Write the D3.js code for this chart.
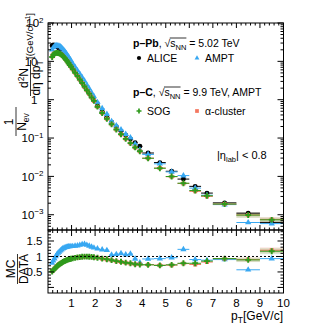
<!DOCTYPE html>
<html><head><meta charset="utf-8">
<script src="https://cdn.jsdelivr.net/npm/d3@7"></script>
<style>
body{margin:0;background:#fff;}
svg text{font-family:"Liberation Sans",Arial,Helvetica,sans-serif;fill:#000;}
</style></head><body>
<svg id="c" width="315" height="329"></svg>
<script>
// ---------------- data ----------------
const pT = [0.175,0.225,0.275,0.325,0.375,0.425,0.475,0.525,0.575,0.625,0.675,0.725,0.775,0.825,0.875,0.925,0.975,
  1.05,1.15,1.25,1.35,1.45,1.55,1.65,1.75,1.85,1.95,
  2.1,2.3,2.5,2.7,2.9,3.1,3.3,3.5,3.7,3.9,
  4.25,4.75,5.25,5.75,6.25,6.75,
  7.5,8.5,9.5];
const pTHalfWidth = [0.025,0.025,0.025,0.025,0.025,0.025,0.025,0.025,0.025,0.025,0.025,0.025,0.025,0.025,0.025,0.025,0.025,
  0.05,0.05,0.05,0.05,0.05,0.05,0.05,0.05,0.05,0.05,
  0.1,0.1,0.1,0.1,0.1,0.1,0.1,0.1,0.1,0.1,
  0.25,0.25,0.25,0.25,0.25,0.25,
  0.5,0.5,0.5];
const aliceSpectrum = [25.5,26.6,26.5,25.7,24.5,23.1,21.8,20.4,18.6,17.0,15.3,13.8,12.4,11.1,9.89,8.81,7.85,
  6.61,5.31,4.27,3.43,2.75,2.21,1.78,1.45,1.17,0.955,
  0.684,0.484,0.351,0.260,0.197,0.151,0.119,0.0944,0.0759,0.0610,
  0.0407,0.0229,0.0136,0.00851,0.00550,0.00367,
  0.00204,0.00110,0.000631];
const amptSpectrum = [20.1,22.9,24.6,25.7,26.0,25.6,25.1,24.3,22.7,21.3,19.4,17.8,16.1,14.5,13.1,11.6,10.4,
  8.79,7.12,5.76,4.70,3.82,3.09,2.44,1.94,1.53,1.22,
  0.855,0.590,0.421,0.273,0.211,0.166,0.126,0.102,0.0698,0.0488,
  0.0374,0.0213,0.0131,0.0105,0.00495,0.00323,
  0.00184,0.000627,0.000587];
const sogSpectrum = [13.0,14.9,15.9,16.4,16.7,16.4,16.1,15.7,14.7,13.9,12.9,11.9,10.9,9.88,8.95,8.06,7.26,
  6.21,5.07,4.14,3.36,2.72,2.20,1.77,1.44,1.15,0.931,
  0.657,0.450,0.319,0.229,0.167,0.125,0.0952,0.0736,0.0569,0.0451,
  0.0297,0.0163,0.00993,0.00664,0.00429,0.00312,
  0.00190,0.000979,0.000738];
const alphaSpectrum = [13.3,15.0,16.0,16.6,16.8,16.5,16.2,15.8,14.8,13.9,12.9,11.9,10.9,9.88,8.95,8.06,7.26,
  6.21,5.07,4.12,3.34,2.71,2.19,1.76,1.43,1.15,0.926,
  0.653,0.448,0.318,0.228,0.166,0.125,0.0952,0.0732,0.0569,0.0454,
  0.0299,0.0165,0.00979,0.00655,0.00407,0.00301,
  0.00190,0.000990,0.000757];
const amptRatio = [0.79,0.86,0.93,1.00,1.06,1.11,1.15,1.19,1.22,1.25,1.27,1.29,1.30,1.31,1.32,1.32,1.33,
  1.33,1.34,1.35,1.37,1.39,1.40,1.37,1.34,1.31,1.28,
  1.25,1.22,1.20,1.05,1.07,1.10,1.06,1.08,0.92,0.80,
  0.92,0.93,0.96,1.23,0.90,0.88,
  0.90,0.57,0.93];
const sogRatio = [0.51,0.56,0.60,0.64,0.68,0.71,0.74,0.77,0.79,0.82,0.84,0.86,0.875,0.89,0.905,0.915,0.925,
  0.94,0.955,0.97,0.98,0.99,0.995,0.995,0.99,0.985,0.975,
  0.96,0.93,0.91,0.88,0.85,0.83,0.80,0.78,0.75,0.74,
  0.73,0.71,0.73,0.78,0.78,0.85,
  0.93,0.89,1.17];
const alphaRatio = [0.52,0.565,0.605,0.645,0.685,0.715,0.745,0.775,0.795,0.82,0.84,0.86,0.875,0.89,0.905,0.915,0.925,
  0.94,0.955,0.965,0.975,0.985,0.99,0.99,0.985,0.98,0.97,
  0.955,0.925,0.905,0.875,0.845,0.825,0.80,0.775,0.75,0.745,
  0.735,0.72,0.72,0.77,0.74,0.82,
  0.93,0.90,1.20];
const xTickLabels = ["1","2","3","4","5","6","7","8","9","10"];
const yLogExponents = [2,1,0,-1,-2,-3];
const ratioTickLabels = ["0.5","1","1.5"];

// ---------------- layout ----------------
const svg = d3.select("#c");
const X0 = 48, X1 = 283.5, T0 = 23, T1 = 230, R0 = 230, R1 = 293;
const x = d3.scaleLinear().domain([0, 10]).range([X0, X1]);
const y = d3.scaleLog().domain([4e-4, 100]).range([T1, T0]);
const yr = d3.scaleLinear().domain([-0.18, 1.855]).range([R1, R0]);

const colors = {alice:"#000000", ampt:"#38a8f2", sog:"#2f9a1c", alpha:"#f47760"};
const symType = {alice:d3.symbolCircle, ampt:d3.symbolTriangle, alpha:d3.symbolSquare, sog:d3.symbolCross};
const symSize = {alice:19, ampt:17, alpha:16, sog:19};

svg.append("clipPath").attr("id","cpTop").append("rect").attr("x",X0).attr("y",T0).attr("width",X1-X0).attr("height",T1-T0);
svg.append("clipPath").attr("id","cpBot").append("rect").attr("x",X0).attr("y",R0).attr("width",X1-X0).attr("height",R1-R0);

const gTop = svg.append("g").attr("clip-path","url(#cpTop)");
const gBot = svg.append("g").attr("clip-path","url(#cpBot)");

function drawSeries(g, vals, key, ys) {
  const pts = pT.map((p,i)=>({p, hw:pTHalfWidth[i], v:vals[i]}));
  const s = g.append("g");
  s.selectAll("line.h").data(pts).join("line")
    .attr("x1",d=>x(d.p-d.hw)).attr("x2",d=>x(d.p+d.hw))
    .attr("y1",d=>ys(d.v)).attr("y2",d=>ys(d.v))
    .attr("stroke",colors[key]).attr("stroke-width",1);
  s.selectAll("path").data(pts).join("path")
    .attr("d",d3.symbol().type(symType[key]).size(symSize[key]))
    .attr("transform",d=>`translate(${x(d.p)},${ys(d.v)})`)
    .attr("fill",colors[key]);
}
// pale systematic boxes for the highest bins
function drawBoxes(g, vals, key, ys, frac) {
  const pts = pT.map((p,i)=>({p, hw:pTHalfWidth[i], v:vals[i]})).filter(d=>d.p>8);
  g.append("g").selectAll("rect").data(pts).join("rect")
    .attr("x",d=>x(d.p-d.hw)).attr("width",d=>x(d.p+d.hw)-x(d.p-d.hw))
    .attr("y",d=>ys(d.v*(1+frac))).attr("height",d=>ys(d.v*(1-frac))-ys(d.v*(1+frac)))
    .attr("fill",colors[key]).attr("opacity",0.18);
}
drawBoxes(gTop, alphaSpectrum, "alpha", y, 0.15);
drawBoxes(gTop, sogSpectrum, "sog", y, 0.15);
drawBoxes(gBot, alphaRatio, "alpha", yr, 0.08);
drawBoxes(gBot, sogRatio, "sog", yr, 0.08);

drawSeries(gTop, aliceSpectrum, "alice", y);
drawSeries(gTop, amptSpectrum, "ampt", y);
drawSeries(gTop, alphaSpectrum, "alpha", y);
drawSeries(gTop, sogSpectrum, "sog", y);

// reference line at 1
svg.append("line").attr("x1",X0).attr("x2",X1).attr("y1",yr(1)).attr("y2",yr(1))
  .attr("stroke","#000").attr("stroke-width",1).attr("stroke-dasharray","2,2");

drawSeries(gBot, amptRatio, "ampt", yr);
drawSeries(gBot, alphaRatio, "alpha", yr);
drawSeries(gBot, sogRatio, "sog", yr);

// ---------------- axes ----------------
const ax = svg.append("g").attr("stroke","#000").attr("stroke-width",1).attr("fill","none");
ax.append("rect").attr("x",X0).attr("y",T0).attr("width",X1-X0).attr("height",T1-T0);
ax.append("rect").attr("x",X0).attr("y",R0).attr("width",X1-X0).attr("height",R1-R0);

function tick(x1,y1,x2,y2){ ax.append("line").attr("x1",x1).attr("y1",y1).attr("x2",x2).attr("y2",y2); }
const xMinor = d3.range(0, 50).map(i=>i*0.2).filter(v=>v>0 && v<10);
xMinor.forEach(v=>{
  const major = Math.abs(v-Math.round(v))<1e-6;
  const px = x(v);
  const lt = major?5:2.5, lb = major?6:3;
  tick(px,T0,px,T0+lt);
  tick(px,T1,px,T1-lt);
  tick(px,R0,px,R0+lb);
  tick(px,R1,px,R1-lb);
});
for (let e=-4;e<=1;e++){
  for (let m=1;m<=9;m++){
    const v = m*Math.pow(10,e);
    if (v<4e-4-1e-12 || v>100) continue;
    const py = y(v);
    const l = m===1?6:3;
    tick(X0,py,X0+l,py); tick(X1,py,X1-l,py);
  }
}
tick(X0,y(100),X0+6,y(100)); tick(X1,y(100),X1-6,y(100));
d3.range(0,19).map(i=>i*0.1).forEach(v=>{
  if (v<-0.18||v>1.855) return;
  const major = Math.abs(v*2-Math.round(v*2))<1e-6;
  const py = yr(v), l = major?6:3;
  tick(X0,py,X0+l,py); tick(X1,py,X1-l,py);
});

// ---------------- tick labels ----------------
const lab = svg.append("g").style("font-size","11.5px");
xTickLabels.forEach(t=>{
  lab.append("text").attr("x",x(+t)).attr("y",306.5).attr("text-anchor","middle").text(t);
});
yLogExponents.forEach(e=>{
  const py = y(Math.pow(10,e))+4.2;
  if (e===0) lab.append("text").attr("x",37.5).attr("y",py).attr("text-anchor","end").text("1");
  else if (e===1) lab.append("text").attr("x",37.5).attr("y",py).attr("text-anchor","end").text("10");
  else {
    const t = lab.append("text").attr("x",43.5).attr("y",py).attr("text-anchor","end");
    t.append("tspan").text("10");
    t.append("tspan").attr("dy",-4.5).style("font-size","8px").text(e<0?("\u2212"+(-e)):String(e));
  }
});
ratioTickLabels.forEach(t=>{
  lab.append("text").attr("x",42.5).attr("y",yr(+t)+4.2).attr("text-anchor","end").text(t);
});

// axis titles
const xt = svg.append("text").attr("x",283).attr("y",319.5).attr("text-anchor","end").style("font-size","12px");
xt.append("tspan").text("p");
xt.append("tspan").attr("dy",3).style("font-size","8.5px").text("T");
xt.append("tspan").attr("dy",-3).text("[GeV/c]");

// rotated y title (top)
const yt = svg.append("g").attr("transform","rotate(-90)").style("font-size","12px");
yt.append("text").attr("x",-122).attr("y",13).attr("text-anchor","middle").text("1");
yt.append("line").attr("x1",-136).attr("x2",-107).attr("y1",16).attr("y2",16).attr("stroke","#000").attr("stroke-width",0.8);
const nev = yt.append("text").attr("x",-122).attr("y",26).attr("text-anchor","middle");
nev.append("tspan").text("N");
nev.append("tspan").attr("dy",3).style("font-size","8.5px").text("ev");
const d2n = yt.append("text").attr("x",-78).attr("y",28).attr("text-anchor","middle");
d2n.append("tspan").text("d");
d2n.append("tspan").attr("dy",-4).style("font-size","8.5px").text("2");
d2n.append("tspan").attr("dy",4).text("N");
yt.append("line").attr("x1",-96).attr("x2",-60).attr("y1",30.5).attr("y2",30.5).attr("stroke","#000").attr("stroke-width",0.8);
const deta = yt.append("text").attr("x",-78).attr("y",40).attr("text-anchor","middle");
deta.append("tspan").text("d\u03B7 dp");
deta.append("tspan").attr("dy",3).style("font-size","8.5px").text("T");
const unit = yt.append("text").attr("x",-59).attr("y",33).attr("text-anchor","start").style("font-size","9.5px");
unit.append("tspan").text("[(GeV/c)");
unit.append("tspan").attr("dy",-3.5).style("font-size","7px").text("\u22121");
unit.append("tspan").attr("dy",3.5).text("]");

// ratio title
const rt = svg.append("g").attr("transform","rotate(-90)").style("font-size","12px");
rt.append("text").attr("x",-269).attr("y",15).attr("text-anchor","middle").text("MC");
rt.append("line").attr("x1",-284).attr("x2",-254).attr("y1",17.5).attr("y2",17.5).attr("stroke","#000").attr("stroke-width",0.8);
rt.append("text").attr("x",-269).attr("y",28).attr("text-anchor","middle").text("DATA");

// ---------------- legend ----------------
const lg = svg.append("g").style("font-size","10.5px");
function sqrtS(t, val){
  t.append("tspan").text(", \u221A");
  t.append("tspan").text("s");
  t.append("tspan").attr("dy",2.5).style("font-size","7.5px").text("NN");
  t.append("tspan").attr("dy",-2.5).text(" = "+val);
}
const l1 = lg.append("text").attr("x",133).attr("y",47);
l1.append("tspan").style("font-weight","bold").text("p\u2013Pb");
sqrtS(l1, "5.02 TeV");
const l2 = lg.append("text").attr("x",133).attr("y",96);
l2.append("tspan").style("font-weight","bold").text("p\u2013C");
sqrtS(l2, "9.9 TeV, AMPT");

const entries = [
  {key:"alice", label:"ALICE", mx:139, my:58},
  {key:"ampt", label:"AMPT", mx:197, my:58},
  {key:"sog", label:"SOG", mx:139, my:111},
  {key:"alpha", label:"\u03B1-cluster", mx:197, my:111}
];
entries.forEach(e=>{
  lg.append("path").attr("d",d3.symbol().type(symType[e.key]).size(e.key==="ampt"?10:14)())
    .attr("transform",`translate(${e.mx},${e.my})`).attr("fill",colors[e.key]);
  lg.append("text").attr("x",e.mx+8).attr("y",e.my+4).text(e.label);
});
const eta = lg.append("text").attr("x",217).attr("y",159).style("font-size","11px");
eta.append("tspan").text("|\u03B7");
eta.append("tspan").attr("dy",2.5).style("font-size","7.5px").text("lab");
eta.append("tspan").attr("dy",-2.5).text("| < 0.8");

// overline above s_NN
[l1, l2].forEach(t=>{
  const n = t.node();
  const tsp = t.selectAll("tspan").nodes();
  const idx = tsp.findIndex(s=>s.textContent===", \u221A");
  const before = tsp.slice(0,idx+1).reduce((a,s)=>a+s.textContent.length,0);
  const endIdx = before + tsp[idx+1].textContent.length + tsp[idx+2].textContent.length - 1;
  const sx = n.getEndPositionOfChar(before-1).x;
  const ex = n.getEndPositionOfChar(endIdx).x;
  const by = +t.attr("y");
  lg.append("line").attr("x1",sx-0.5).attr("x2",ex).attr("y1",by-9).attr("y2",by-9)
    .attr("stroke","#000").attr("stroke-width",0.8);
});
</script>
</body></html>
